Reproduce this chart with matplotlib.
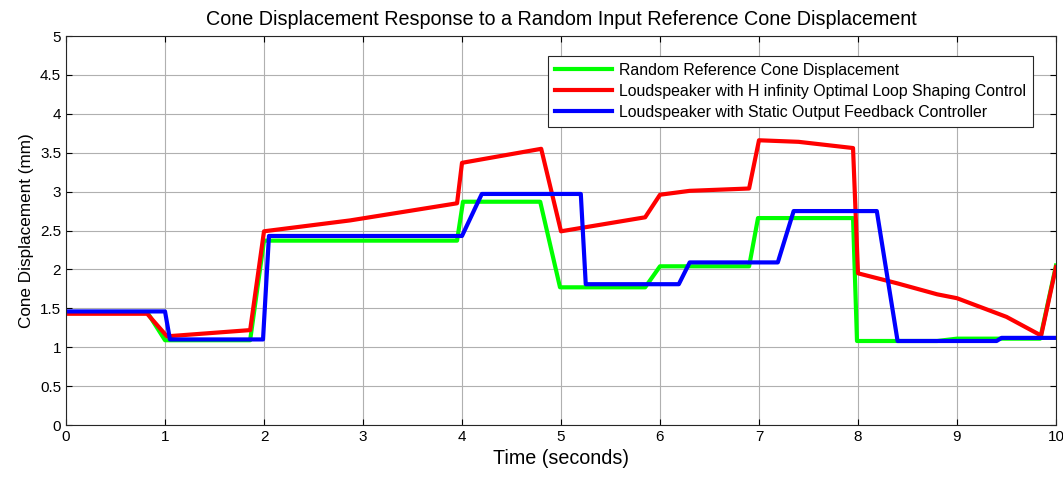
import matplotlib
matplotlib.use('Agg')
import matplotlib.pyplot as plt
import numpy as np

plt.rcParams['font.family'] = ['Liberation Sans', 'DejaVu Sans']

# Random reference cone displacement (mm)
t_ref = [0, 0.82, 1.0, 1.86, 2.0, 3.95, 4.01, 4.79, 4.99, 5.85, 6.0, 6.9, 6.99,
         7.95, 7.99, 8.8, 9.0, 9.84, 10.0]
y_ref = [1.45, 1.45, 1.09, 1.09, 2.37, 2.37, 2.87, 2.87, 1.77, 1.77, 2.04, 2.04, 2.66,
         2.66, 1.08, 1.08, 1.11, 1.11, 2.05]

# H infinity loop shaping response
t_hinf = [0, 0.82, 1.02, 1.86, 2.0, 2.87, 3.95, 4.0, 4.8, 5.0, 5.85, 6.0, 6.3, 6.9,
          7.0, 7.4, 7.95, 8.0, 8.4, 8.8, 9.0, 9.5, 9.85, 10.0]
y_hinf = [1.43, 1.43, 1.14, 1.22, 2.49, 2.63, 2.85, 3.37, 3.55, 2.49, 2.67, 2.96, 3.01, 3.04,
          3.66, 3.64, 3.56, 1.95, 1.82, 1.68, 1.63, 1.39, 1.15, 2.03]

# Static output feedback response
t_sof = [0, 1.0, 1.05, 1.99, 2.05, 4.0, 4.2, 5.2, 5.25, 6.19, 6.3, 7.19, 7.35,
         8.19, 8.4, 9.4, 9.45, 10.0]
y_sof = [1.46, 1.46, 1.1, 1.1, 2.43, 2.43, 2.97, 2.97, 1.81, 1.81, 2.09, 2.09, 2.75,
         2.75, 1.08, 1.08, 1.12, 1.12]

fig = plt.figure(figsize=(10.63, 4.79), dpi=100)
ax = fig.add_axes([0.0621, 0.1127, 0.9313, 0.8121])

ax.plot(t_ref, y_ref, color='#00ff00', lw=3, label='Random Reference Cone Displacement')
ax.plot(t_hinf, y_hinf, color='#ff0000', lw=3,
        label='Loudspeaker with H infinity Optimal Loop Shaping Control')
ax.plot(t_sof, y_sof, color='#0000ff', lw=3,
        label='Loudspeaker with Static Output Feedback Controller')

ax.set_xlim(0, 10)
ax.set_ylim(0, 5)
ax.set_xticks(np.arange(0, 11, 1))
ax.set_yticks(np.arange(0, 5.01, 0.5))
ax.set_yticklabels(['0', '0.5', '1', '1.5', '2', '2.5', '3', '3.5', '4', '4.5', '5'])
ax.grid(True, color='#b0b0b0', lw=0.8)
ax.tick_params(direction='in', labelsize=11, top=True, right=True, length=4)
for s in ax.spines.values():
    s.set_color('#262626')

ax.set_title('Cone Displacement Response to a Random Input Reference Cone Displacement',
             fontsize=14.2, pad=8)
ax.set_xlabel('Time (seconds)', fontsize=14.2)
ax.set_ylabel('Cone Displacement (mm)', fontsize=12.3)

leg = ax.legend(loc='upper right', bbox_to_anchor=(0.977, 0.949), fontsize=11.4,
                fancybox=False, framealpha=1, edgecolor='#262626',
                handlelength=3.6, handletextpad=0.45, borderpad=0.45,
                labelspacing=0.38, borderaxespad=0)
leg.get_frame().set_linewidth(0.8)

fig.savefig('out.png', dpi=100)
